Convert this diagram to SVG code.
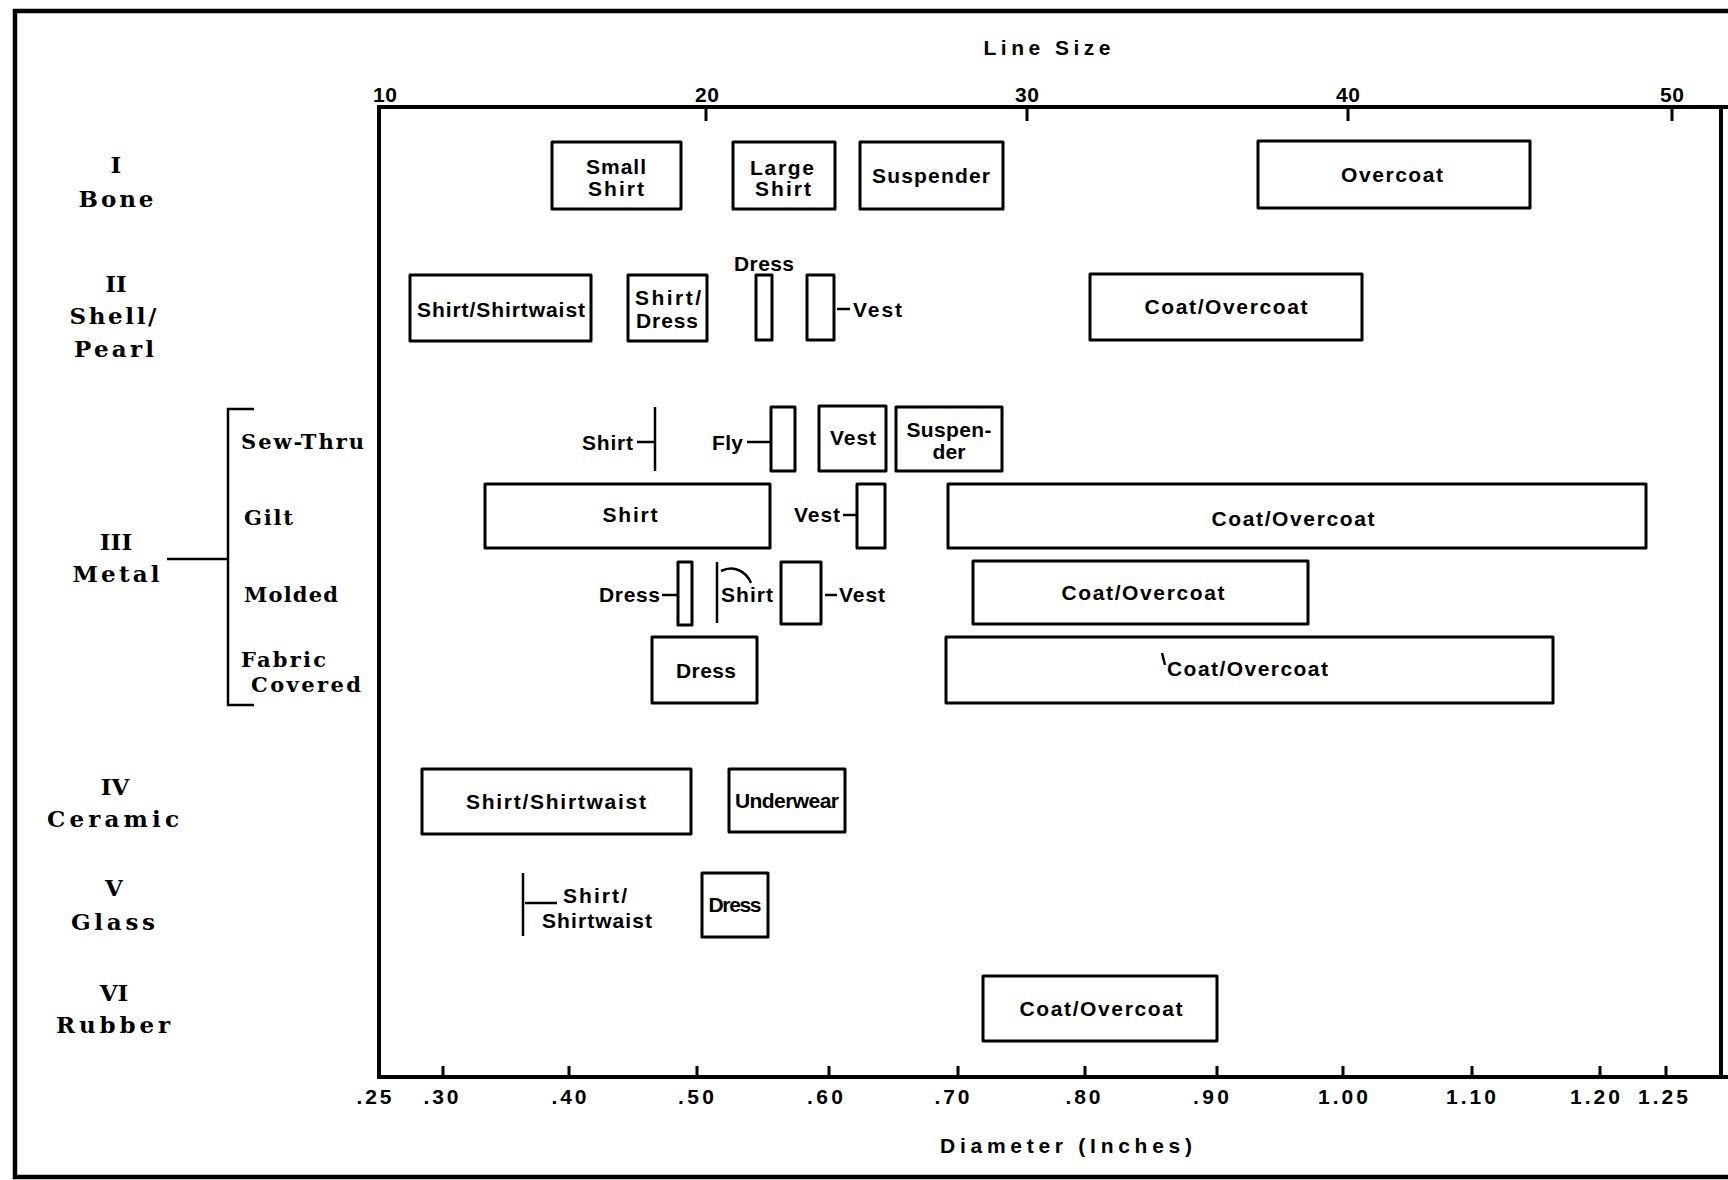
<svg xmlns="http://www.w3.org/2000/svg" width="1728" height="1180" viewBox="0 0 1728 1180">
<style>
.frame{fill:none;stroke:#000;stroke-width:4.5}
.ax{fill:none;stroke:#000;stroke-width:4;stroke-linecap:square}
.tk{fill:none;stroke:#000;stroke-width:3}
.box{fill:none;stroke:#000;stroke-width:3;stroke-linejoin:round}
.ln{fill:none;stroke:#000;stroke-width:2.5}
.t{font-family:"Liberation Sans",Arial,sans-serif;font-weight:bold;font-size:21px;fill:#000;text-anchor:middle}
.ts{text-anchor:start}
.te{text-anchor:end}
.n{font-family:"Liberation Sans",Arial,sans-serif;font-weight:bold;font-size:21px;fill:#000;text-anchor:middle}
.r{font-family:"DejaVu Serif","Liberation Serif",serif;font-weight:bold;font-size:23px;fill:#000;text-anchor:middle}
.s{font-family:"DejaVu Serif","Liberation Serif",serif;font-weight:bold;font-size:21px;fill:#000;text-anchor:start}
</style>
<rect x="0" y="0" width="1728" height="1180" fill="#fff"/>
<path class="frame" d="M1740 11 H15 V1177 H1740"/>

<g id="axes">
  <path class="ax" d="M1728 107 H379 V1077 H1728"/>
  <line class="ax" x1="1721" y1="107" x2="1721" y2="1077"/>
  <path class="tk" d="M706 107 V121 M1027 107 V121 M1348 107 V121 M1672 107 V121"/>
  <path class="tk" d="M443 1077 V1066 M569 1077 V1066 M697 1077 V1066 M829 1077 V1066 M958 1077 V1066 M1085 1077 V1066 M1217 1077 V1066 M1343 1077 V1066 M1472 1077 V1066 M1600 1077 V1066 M1666 1077 V1066"/>
  <text class="t" x="1047" y="55" font-size="23" textLength="127">Line Size</text>
  <text class="n" x="385" y="102" font-size="22" textLength="24">10</text>
  <text class="n" x="707" y="102" font-size="22" textLength="24">20</text>
  <text class="n" x="1027" y="102" font-size="22" textLength="24">30</text>
  <text class="n" x="1348" y="102" font-size="22" textLength="24">40</text>
  <text class="n" x="1672" y="102" font-size="22" textLength="24">50</text>
  <text class="n" x="374" y="1104" textLength="35">.25</text>
  <text class="n" x="441" y="1104" textLength="35">.30</text>
  <text class="n" x="569" y="1104" textLength="35">.40</text>
  <text class="n" x="696" y="1104" textLength="36">.50</text>
  <text class="n" x="825" y="1104" textLength="36">.60</text>
  <text class="n" x="952" y="1104" textLength="35">.70</text>
  <text class="n" x="1083" y="1104" textLength="35">.80</text>
  <text class="n" x="1211" y="1104" textLength="36">.90</text>
  <text class="n" x="1343" y="1104" textLength="50">1.00</text>
  <text class="n" x="1471" y="1104" textLength="50">1.10</text>
  <text class="n" x="1595" y="1104" textLength="50">1.20</text>
  <text class="n" x="1663" y="1104" textLength="50">1.25</text>
  <text class="t" x="1066" y="1153" font-size="22" textLength="252">Diameter (Inches)</text>
</g>

<g id="row-labels">
  <text class="r" x="116" y="173">I</text>
  <text class="r" x="116" y="207" textLength="75">Bone</text>
  <text class="r" x="116" y="292">II</text>
  <text class="r" x="113" y="324" textLength="87">Shell/</text>
  <text class="r" x="114" y="357" textLength="80">Pearl</text>
  <text class="r" x="116" y="550">III</text>
  <text class="r" x="116" y="582" textLength="87">Metal</text>
  <text class="r" x="115" y="795">IV</text>
  <text class="r" x="113" y="827" textLength="132">Ceramic</text>
  <text class="r" x="114" y="896">V</text>
  <text class="r" x="113" y="930" textLength="84">Glass</text>
  <text class="r" x="114" y="1001">VI</text>
  <text class="r" x="113" y="1033" textLength="114">Rubber</text>
  <text class="s" x="241" y="449" textLength="123">Sew-Thru</text>
  <text class="s" x="244" y="525" textLength="49">Gilt</text>
  <text class="s" x="244" y="602" textLength="94">Molded</text>
  <text class="s" x="241" y="667" textLength="85">Fabric</text>
  <text class="s" x="251" y="692" textLength="110">Covered</text>
</g>

<g id="connectors">
  <path class="ln" d="M167 559 H228 M254 409 H228 V705 H254"/>
  <line class="ln" x1="637" y1="442" x2="654" y2="442"/>
  <line class="ln" x1="747" y1="442" x2="770" y2="442"/>
  <line class="ln" x1="837" y1="309" x2="850" y2="309"/>
  <line class="ln" x1="843" y1="515" x2="857" y2="515"/>
  <line class="ln" x1="662" y1="595" x2="677" y2="595"/>
  <line class="ln" x1="825" y1="595" x2="837" y2="595"/>
  <path class="ln" d="M721 571 C734 565 746 571 751 583"/>
  <line class="ln" x1="525" y1="903" x2="557" y2="903"/>
  <path class="ln" d="M1162 653 L1165 665"/>
</g>

<g id="bone-small-shirt"><rect class="box" x="552" y="142" width="129" height="67"/><text class="t" x="616" y="174" textLength="60">Small</text><text class="t" x="616" y="196" textLength="56">Shirt</text></g>
<g id="bone-large-shirt"><rect class="box" x="733" y="142" width="102" height="67"/><text class="t" x="782" y="175" textLength="64">Large</text><text class="t" x="783" y="196" textLength="56">Shirt</text></g>
<g id="bone-suspender"><rect class="box" x="860" y="142" width="143" height="67"/><text class="t" x="931" y="183" textLength="118">Suspender</text></g>
<g id="bone-overcoat"><rect class="box" x="1258" y="141" width="272" height="67"/><text class="t" x="1392" y="182" textLength="102">Overcoat</text></g>

<g id="shell-shirt-shirtwaist"><rect class="box" x="410" y="275" width="181" height="66"/><text class="t" x="501" y="317" textLength="168">Shirt/Shirtwaist</text></g>
<g id="shell-shirt-dress"><rect class="box" x="628" y="275" width="79" height="66"/><text class="t" x="668" y="305" textLength="66">Shirt/</text><text class="t" x="667" y="328" textLength="62">Dress</text></g>
<g id="shell-dress"><rect class="box" x="756" y="275" width="16" height="65"/><text class="t" x="764" y="271" textLength="60">Dress</text></g>
<g id="shell-vest"><rect class="box" x="807" y="275" width="27" height="65"/><text class="t ts" x="853" y="317" textLength="49">Vest</text></g>
<g id="shell-coat-overcoat"><rect class="box" x="1090" y="274" width="272" height="66"/><text class="t" x="1226" y="314" textLength="163">Coat/Overcoat</text></g>

<g id="sewthru-shirt"><line class="ln" x1="655" y1="407" x2="655" y2="471" stroke-width="3"/><text class="t te" x="633" y="450" textLength="51">Shirt</text></g>
<g id="sewthru-fly"><rect class="box" x="771" y="407" width="24" height="64"/><text class="t ts" x="712" y="450" textLength="31">Fly</text></g>
<g id="sewthru-vest"><rect class="box" x="819" y="406" width="67" height="65"/><text class="t" x="853" y="445" textLength="46">Vest</text></g>
<g id="sewthru-suspender"><rect class="box" x="896" y="407" width="106" height="64"/><text class="t" x="949" y="437" textLength="85">Suspen-</text><text class="t" x="949" y="459" textLength="33">der</text></g>

<g id="gilt-shirt"><rect class="box" x="485" y="484" width="285" height="64"/><text class="t" x="630" y="522" textLength="55">Shirt</text></g>
<g id="gilt-vest"><rect class="box" x="857" y="484" width="28" height="64"/><text class="t te" x="840" y="522" textLength="46">Vest</text></g>
<g id="gilt-coat-overcoat"><rect class="box" x="948" y="484" width="698" height="64"/><text class="t" x="1293" y="526" textLength="163">Coat/Overcoat</text></g>

<g id="molded-dress"><rect class="box" x="678" y="562" width="14" height="63"/><text class="t te" x="660" y="602" textLength="61">Dress</text></g>
<g id="molded-shirt"><line class="ln" x1="717" y1="562" x2="717" y2="623" stroke-width="3"/><text class="t ts" x="721" y="602" textLength="52">Shirt</text></g>
<g id="molded-vest"><rect class="box" x="781" y="562" width="40" height="62"/><text class="t ts" x="839" y="602" textLength="46">Vest</text></g>
<g id="molded-coat-overcoat"><rect class="box" x="973" y="561" width="335" height="63"/><text class="t" x="1143" y="600" textLength="163">Coat/Overcoat</text></g>

<g id="fabric-dress"><rect class="box" x="652" y="637" width="105" height="66"/><text class="t" x="706" y="678" textLength="60">Dress</text></g>
<g id="fabric-coat-overcoat"><rect class="box" x="946" y="637" width="607" height="66"/><text class="t ts" x="1167" y="676" textLength="161">Coat/Overcoat</text></g>

<g id="ceramic-shirt-shirtwaist"><rect class="box" x="422" y="769" width="269" height="65"/><text class="t" x="556" y="809" textLength="180">Shirt/Shirtwaist</text></g>
<g id="ceramic-underwear"><rect class="box" x="729" y="769" width="116" height="63"/><text class="t" x="787" y="808" font-size="19" textLength="104">Underwear</text></g>

<g id="glass-shirt-shirtwaist"><line class="ln" x1="523" y1="873" x2="523" y2="936" stroke-width="3"/><text class="t" x="595" y="903" textLength="64">Shirt/</text><text class="t" x="597" y="928" textLength="110">Shirtwaist</text></g>
<g id="glass-dress"><rect class="box" x="702" y="873" width="66" height="64"/><text class="t" x="735" y="912" font-size="18" textLength="53">Dress</text></g>

<g id="rubber-coat-overcoat"><rect class="box" x="983" y="976" width="234" height="65"/><text class="t" x="1101" y="1016" textLength="163">Coat/Overcoat</text></g>
</svg>
